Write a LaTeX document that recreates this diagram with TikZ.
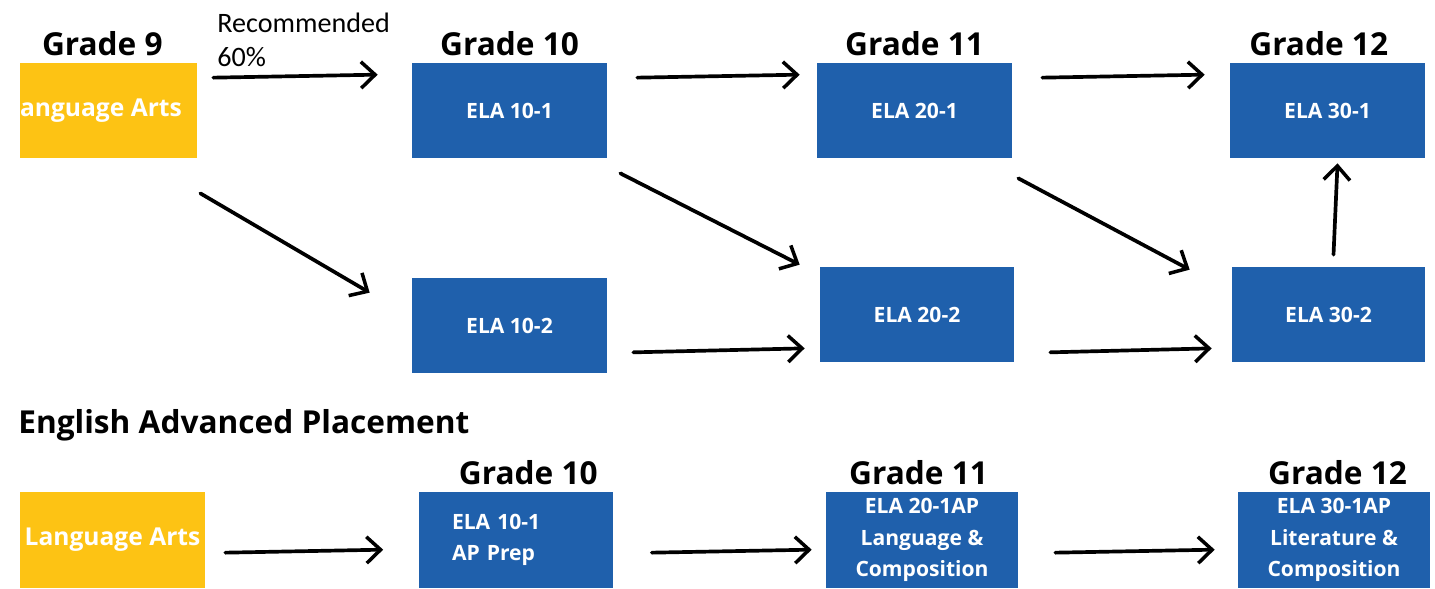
\documentclass[tikz,border=0pt]{standalone}
\usepackage{fontspec}
\setmainfont{Open Sans}
\newfontfamily\calibri{Carlito}
\usetikzlibrary{arrows.meta,positioning}
\definecolor{elablue}{RGB}{31,96,172}
\definecolor{layellow}{RGB}{253,195,20}

\begin{document}
\begin{tikzpicture}[x=0.02cm,y=-0.02cm,
    course/.style={fill=elablue,text=white,inner sep=0pt,
      font=\fontsize{12}{18}\selectfont\bfseries,
      minimum width=3.9cm,minimum height=1.9cm},
    langarts/.style={course,fill=layellow,font=\fontsize{14}{16}\selectfont\bfseries},
    grade/.style={font=\fontsize{18}{20}\selectfont\bfseries,inner sep=0pt},
    arr/.style={line width=2.1pt,line cap=round,
      -{Straight Barb[length=8pt,width=15pt,line width=2pt]}}]
        \useasboundingbox (0,0) rectangle (1435,588);

        % Standard stream
        \node[langarts,minimum width=3.54cm] (la) at (108.5,110.5) {\hspace*{-0.58cm}Language Arts};
        \node[course] (e101) at (509.5,110.5) {ELA 10-1};
        \node[course] (e201) at (914.5,110.5) {ELA 20-1};
        \node[course] (e301) at (1327.5,110.5) {ELA 30-1};
        \node[course] (e102) at (509.5,325.5) {ELA 10-2};
        \node[course,minimum width=3.88cm] (e202) at (917,314.5) {ELA 20-2};
        \node[course,minimum width=3.86cm] (e302) at (1328.5,314.5) {ELA 30-2};

        \node[grade,above=0.12cm of la,xshift=-3.5pt] (g9) {Grade 9};
        \node[grade,above=0.12cm of e101] (g10) {Grade 10};
        \node[grade,above=0.12cm of e201] (g11) {Grade 11};
        \node[grade,above=0.12cm of e301,xshift=-5pt] (g12) {Grade 12};
        \node[font=\calibri\fontsize{16}{19}\selectfont,align=left,inner sep=0pt,
          anchor=north west] (rec) at (217,13) {Recommended\\60\%};

        \draw[arr] ([shift={(16,15)}]la.north east) -- ([shift={(-34,12)}]e101.north west);
        \draw[arr] ([shift={(30,15)}]e101.north east) -- ([shift={(-17,12)}]e201.north west);
        \draw[arr] ([shift={(30,15)}]e201.north east) -- ([shift={(-25,12)}]e301.north west);
        \draw[arr] ([shift={(3,35)}]la.south east) -- ([shift={(-42,15)}]e102.north west);
        \draw[arr] ([shift={(13,15)}]e101.south east) -- ([shift={(-20,-2)}]e202.north west);
        \draw[arr] ([shift={(6,20)}]e201.south east) -- ([shift={(-42,3)}]e302.north west);
        \draw[arr] ([shift={(5,-12)}]e302.north) -- ([shift={(10,5)}]e301.south);
        \draw[arr] ([shift={(26,-21)}]e102.south east) -- ([shift={(-15,-14)}]e202.south west);
        \draw[arr] ([shift={(36,-10)}]e202.south east) -- ([shift={(-20,-14)}]e302.south west);

        % Advanced placement stream
        \node[grade,anchor=base west] (eap) at (18,433) {English Advanced Placement};

        \node[langarts,minimum width=3.7cm,minimum height=1.92cm] (lab) at (112.5,540) {Language Arts};
        \node[course,minimum height=1.92cm,inner xsep=0.64cm,text width=2.56cm,align=left] (ap10) at (516,540) {ELA 10-1\\AP Prep};
        \node[course,minimum width=3.84cm,minimum height=1.92cm,align=center] (ap11) at (922,540) {ELA 20-1AP\\Language \&\\Composition};
        \node[course,minimum width=3.84cm,minimum height=1.92cm,align=center] (ap12) at (1334,540) {ELA 30-1AP\\Literature \&\\Composition};

        \node[grade,above=0.14cm of ap10,xshift=7pt] (h10) {Grade 10};
        \node[grade,above=0.14cm of ap11,xshift=-2pt] (h11) {Grade 11};
        \node[grade,above=0.14cm of ap12,xshift=2pt] (h12) {Grade 12};

        \draw[arr] ([shift={(20,61)}]lab.north east) -- ([shift={(-35,58)}]ap10.north west);
        \draw[arr] ([shift={(38,61)}]ap10.north east) -- ([shift={(-14,58)}]ap11.north west);
        \draw[arr] ([shift={(37,61)}]ap11.north east) -- ([shift={(-23,58)}]ap12.north west);
      \end{tikzpicture}
\end{document}
